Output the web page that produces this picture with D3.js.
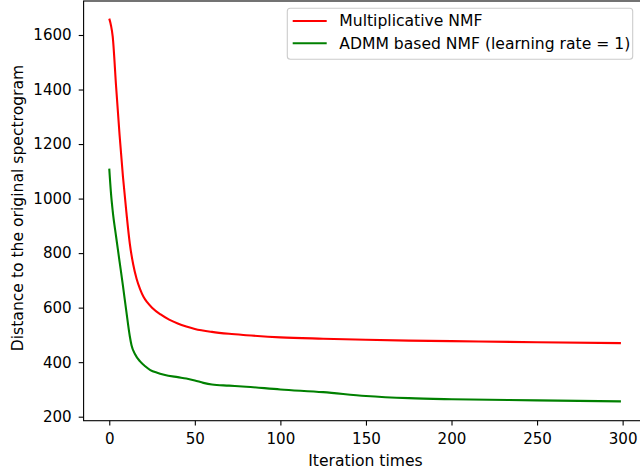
<body style="margin:0"></body>

<script src="https://d3js.org/d3.v7.min.js"></script>
<script>
    // iterations and distances
    var iters = [0, 1, 2, 4, 6, 8, 10, 12, 14, 16, 18, 20, 22, 25, 30, 35, 40, 45, 50, 60, 70, 80, 100, 125, 150, 175, 200, 250, 299];
    var multNMF = [1660, 1635, 1595, 1410, 1235, 1080, 950, 835, 758, 705, 668, 640, 621, 600, 575, 556, 542, 531, 522, 511, 504, 499, 491, 486, 482, 479, 477, 473, 470];
    var admmIters = [0, 1, 2, 4, 6, 8, 10, 12, 13, 15, 18, 21, 24, 28, 32, 40, 45, 50, 55, 60, 70, 80, 100, 125, 150, 175, 200, 250, 299];
    var admmNMF = [1110, 1020, 955, 860, 770, 680, 585, 495, 462, 430, 403, 385, 371, 361, 354, 345, 340, 333, 324, 318, 314, 310, 300, 290, 276, 268, 264, 260, 256];
    var seriesNames = ["Multiplicative NMF", "ADMM based NMF (learning rate = 1)"];
    var seriesColors = ["#ff0000", "#008000"];
    var xTicks = [0, 50, 100, 150, 200, 250, 300];
    var yTicks = [200, 400, 600, 800, 1000, 1200, 1400, 1600];

    const W = 640, H = 475;
    const fs = "15.6px", tickFs = "15.1px";
    const svg = d3.select("body").append("svg")
        .attr("width", W).attr("height", H)
        .style("font-family", "DejaVu Sans")
        .style("display", "block");

    const pLeft = 83.6, pTop = 1, pBottom = 420.7, pRight = 648.3;
    const x = d3.scaleLinear().domain([-15, 315]).range([pLeft, pRight]);
    const y = d3.scaleLinear().domain([185.3, 1724.7]).range([pBottom, pTop]);

    // lines
    const line = d3.line().curve(d3.curveMonotoneX);
    svg.append("clipPath").attr("id", "c").append("rect")
        .attr("x", pLeft).attr("y", pTop).attr("width", pRight - pLeft).attr("height", pBottom - pTop);
    const plot = svg.append("g").attr("clip-path", "url(#c)");
    plot.append("path")
        .attr("d", line(iters.map((t, i) => [x(t), y(multNMF[i])])))
        .attr("fill", "none").attr("stroke", seriesColors[0]).attr("stroke-width", 2.1);
    plot.append("path")
        .attr("d", line(admmIters.map((t, i) => [x(t), y(admmNMF[i])])))
        .attr("fill", "none").attr("stroke", seriesColors[1]).attr("stroke-width", 2.1);

    // axes
    const xAxis = svg.append("g").attr("transform", "translate(0," + pBottom + ")")
        .call(d3.axisBottom(x).tickValues(xTicks).tickFormat(d3.format("d")).tickSize(4.9).tickPadding(7.5));
    const yAxis = svg.append("g").attr("transform", "translate(" + pLeft + ",0)")
        .call(d3.axisLeft(y).tickValues(yTicks).tickFormat(d3.format("d")).tickSize(4.9).tickPadding(7));
    [xAxis, yAxis].forEach(a => {
        a.select(".domain").remove();
        a.selectAll("text").style("font-size", tickFs).style("font-family", "DejaVu Sans").attr("fill", "#000");
        a.selectAll("line").attr("stroke", "#000").attr("stroke-width", 1.1);
    });

    // spines
    svg.append("rect").attr("x", pLeft).attr("y", pTop)
        .attr("width", pRight - pLeft).attr("height", pBottom - pTop)
        .attr("fill", "none").attr("stroke", "#000").attr("stroke-width", 1.1);

    // axis labels
    svg.append("text").attr("x", 365.5).attr("y", 465.7)
        .attr("text-anchor", "middle").style("font-size", fs)
        .text("Iteration times");
    svg.append("text").attr("transform", "translate(23.3,208) rotate(-90)")
        .attr("text-anchor", "middle").style("font-size", fs)
        .text("Distance to the original spectrogram");

    // legend
    const lg = svg.append("g");
    lg.append("rect").attr("x", 287.3).attr("y", 8.3).attr("width", 345.4).attr("height", 51)
        .attr("rx", 3).attr("fill", "#fff").attr("fill-opacity", 0.8)
        .attr("stroke", "#cccccc").attr("stroke-width", 1.1);
    seriesNames.forEach((name, i) => {
        const ly = 21 + i * 22.3;
        lg.append("line").attr("x1", 292.7).attr("x2", 326.7).attr("y1", ly).attr("y2", ly)
            .attr("stroke", seriesColors[i]).attr("stroke-width", 2.1);
        lg.append("text").attr("x", 339.3).attr("y", ly).attr("dy", "0.35em")
            .style("font-size", fs).text(name);
    });
</script>
